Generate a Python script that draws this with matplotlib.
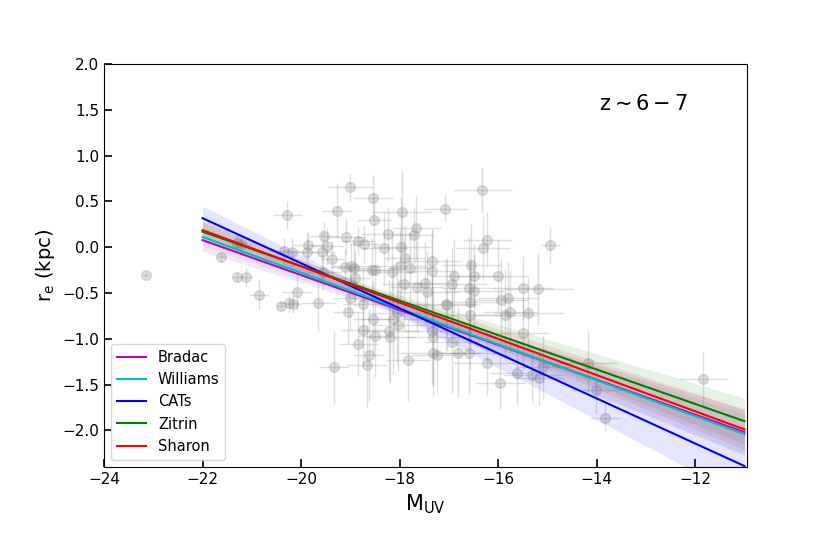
import numpy as np
import matplotlib
matplotlib.use('Agg')
import matplotlib.pyplot as plt

# galaxies (M_UV, log r_e) with errors
mag = [-23.15, -21.62, -21.30, -21.12, -20.85, -20.41, -20.24, -20.16, -20.08, -20.28,
       -20.35, -20.18, -19.88, -19.86, -19.57, -19.47, -19.53, -19.37, -19.27, -19.00,
       -18.54, -18.52, -17.95, -17.08, -16.32, -18.23, -17.66, -17.71, -19.09, -18.84,
       -18.72, -18.31, -17.97, -16.22, -16.30, -19.11, -18.98, -18.92, -18.56, -18.50,
       -18.15, -17.89, -17.99, -17.79, -17.34, -17.34, -16.89, -16.55, -16.49, -17.64,
       -17.48, -16.93, -16.59, -16.49, -17.91, -17.44, -17.06, -16.57, -18.74, -19.55,
       -18.90, -19.00, -21.30, -21.22, -19.65, -19.05, -18.54, -18.74, -18.84, -18.50,
       -18.62, -18.66, -19.33, -18.21, -18.19, -18.13, -18.03, -18.05, -17.83, -17.34,
       -17.32, -17.32, -17.24, -17.04, -16.57, -16.93, -16.81, -16.59, -14.94, -16.00,
       -15.49, -15.19, -15.94, -15.80, -15.86, -15.76, -15.39, -15.49, -16.22, -15.61,
       -15.31, -15.17, -15.09, -15.96, -14.17, -14.01, -13.83, -11.84]
re = [-0.30, -0.11, -0.33, -0.32, -0.52, -0.64, -0.61, -0.62, -0.49, 0.35,
      -0.04, -0.05, -0.05, 0.02, -0.05, 0.01, 0.12, -0.13, 0.40, 0.66,
      0.54, 0.30, 0.39, 0.42, 0.62, 0.14, 0.21, 0.13, 0.11, 0.07,
      0.03, -0.01, 0.00, 0.08, -0.01, -0.22, -0.20, -0.23, -0.25, -0.25,
      -0.27, -0.12, -0.20, -0.23, -0.15, -0.26, -0.31, -0.19, -0.31, -0.43,
      -0.39, -0.40, -0.44, -0.48, -0.40, -0.49, -0.62, -0.60, -0.62, -0.27,
      -0.34, -0.55, 0.05, 0.02, -0.61, -0.71, -0.78, -0.90, -1.06, -0.97,
      -1.18, -1.29, -1.31, -0.91, -0.98, -0.78, -0.85, -0.72, -1.23, -0.91,
      -0.98, -1.16, -1.18, -0.63, -0.74, -1.04, -1.15, -1.15, 0.02, -0.31,
      -0.45, -0.46, -0.58, -0.56, -0.74, -0.71, -0.72, -0.94, -1.26, -1.37,
      -1.40, -1.43, -1.31, -1.48, -1.26, -1.56, -1.86, -1.44]
mag_err = [0.05, 0.10, 0.10, 0.15, 0.20, 0.10, 0.20, 0.15, 0.30, 0.30,
           0.30, 0.25, 0.20, 0.30, 0.25, 0.35, 0.30, 0.25, 0.30, 0.45,
           0.40, 0.35, 0.60, 0.45, 0.60, 0.55, 0.50, 0.40, 0.40, 0.35,
           0.30, 0.45, 0.60, 0.50, 0.55, 0.30, 0.40, 0.35, 0.45, 0.40,
           0.50, 0.40, 0.55, 0.45, 0.60, 0.50, 0.45, 0.60, 0.50, 0.55,
           0.60, 0.70, 0.55, 0.60, 0.45, 0.65, 0.70, 0.60, 0.40, 0.35,
           0.30, 0.35, 0.20, 0.20, 0.35, 0.30, 0.40, 0.45, 0.40, 0.35,
           0.30, 0.40, 0.30, 0.60, 0.50, 0.65, 0.55, 0.60, 0.45, 0.60,
           0.55, 0.70, 0.50, 0.60, 0.65, 0.55, 0.45, 0.60, 0.20, 0.60,
           0.60, 0.70, 0.55, 0.60, 0.65, 0.55, 0.70, 0.50, 0.70, 0.55,
           0.60, 0.50, 0.55, 0.50, 0.60, 0.50, 0.30, 0.50]
re_err = [0.03, 0.05, 0.05, 0.10, 0.17, 0.05, 0.10, 0.10, 0.20, 0.15,
          0.15, 0.15, 0.20, 0.15, 0.25, 0.20, 0.15, 0.20, 0.30, 0.15,
          0.25, 0.30, 0.45, 0.15, 0.25, 0.30, 0.35, 0.30, 0.20, 0.15,
          0.20, 0.40, 0.55, 0.30, 0.35, 0.20, 0.25, 0.30, 0.35, 0.30,
          0.45, 0.35, 0.40, 0.40, 0.35, 0.45, 0.40, 0.45, 0.35, 0.50,
          0.45, 0.40, 0.55, 0.40, 0.50, 0.45, 0.50, 0.45, 0.40, 0.20,
          0.30, 0.35, 0.10, 0.10, 0.30, 0.35, 0.40, 0.40, 0.35, 0.45,
          0.50, 0.45, 0.40, 0.55, 0.50, 0.60, 0.50, 0.55, 0.45, 0.60,
          0.55, 0.45, 0.40, 0.50, 0.60, 0.55, 0.50, 0.45, 0.20, 0.40,
          0.35, 0.40, 0.45, 0.40, 0.50, 0.45, 0.40, 0.40, 0.35, 0.35,
          0.30, 0.30, 0.35, 0.30, 0.35, 0.25, 0.15, 0.30]

# size-luminosity fits, one per lens model
models = ['Bradac', 'Williams', 'CATs', 'Zitrin', 'Sharon']
colors = ['m', 'c', 'b', 'g', 'r']
fit_x = [-22, -18.5, -11]
fit_y = {
    'Bradac':   [0.077, -0.590, -2.020],
    'Williams': [0.113, -0.572, -2.040],
    'CATs':     [0.317, -0.544, -2.390],
    'Zitrin':   [0.170, -0.489, -1.900],
    'Sharon':   [0.186, -0.506, -1.990],
}
# half width of the shaded band at fit_x
fit_w = {
    'Bradac':   [0.12, 0.05, 0.25],
    'Williams': [0.10, 0.05, 0.22],
    'CATs':     [0.13, 0.06, 0.35],
    'Zitrin':   [0.10, 0.05, 0.25],
    'Sharon':   [0.10, 0.05, 0.22],
}

fig = plt.figure(figsize=(8.3, 5.34), dpi=100)
ax = fig.add_axes([0.1253, 0.1255, 0.7747, 0.7545])

ax.errorbar(mag, re, xerr=mag_err, yerr=re_err, fmt='o', color='gray',
            ms=7, alpha=0.25, elinewidth=1, capsize=0, zorder=1)

for name, c in zip(models, colors):
    y = np.array(fit_y[name])
    w = np.array(fit_w[name])
    ax.fill_between(fit_x, y - w, y + w, color=c, alpha=0.1, lw=0, zorder=2)
for name, c in zip(models, colors):
    ax.plot(fit_x, fit_y[name], color=c, lw=1.5, label=name, zorder=3)

ax.set_xlim(-24, -10.95)
ax.set_ylim(-2.4, 2.0)
ax.set_xticks([-24, -22, -20, -18, -16, -14, -12])
ax.set_yticks([-2.0, -1.5, -1.0, -0.5, 0.0, 0.5, 1.0, 1.5, 2.0])
ax.tick_params(direction='in', length=6, width=1.2, labelsize=11)
ax.set_xlabel(r'$\rm M_{UV}$', fontsize=15)
ax.set_ylabel(r'$\rm r_e$ (kpc)', fontsize=14)
ax.text(0.77, 0.90, r'$\rm z \sim 6-7$', transform=ax.transAxes,
        fontsize=15, va='center')
ax.legend(loc='lower left', fontsize=10.5)

fig.savefig('out.png')
